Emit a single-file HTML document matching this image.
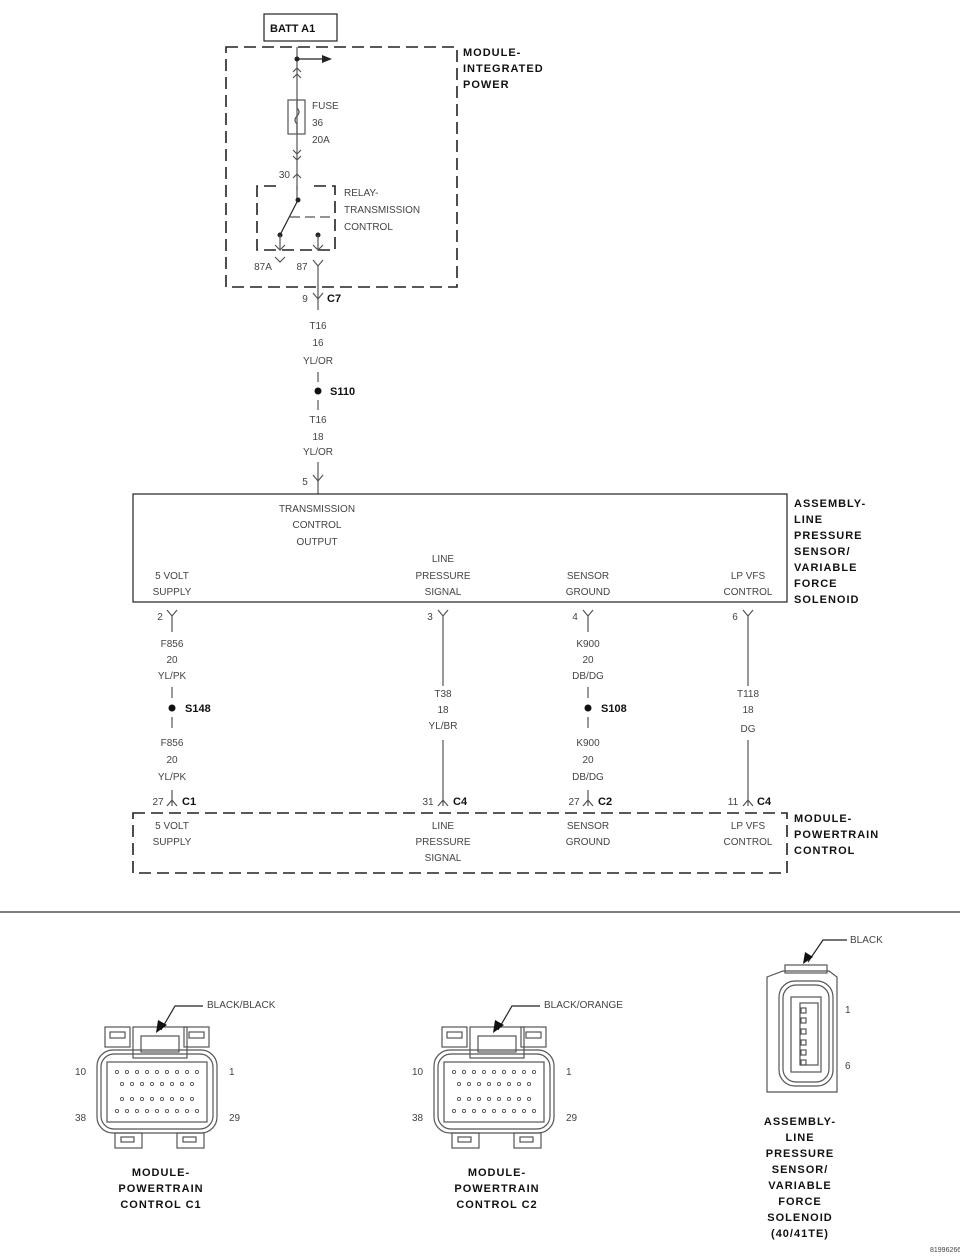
<!DOCTYPE html>
<html><head><style>
html,body{margin:0;padding:0;background:#fff}
svg{display:block}
.t{font-family:"Liberation Sans",sans-serif;font-size:10px;fill:#444;text-anchor:middle}
.tl{font-family:"Liberation Sans",sans-serif;font-size:10px;fill:#444}
.b{font-family:"Liberation Sans",sans-serif;font-size:11px;font-weight:bold;fill:#111;letter-spacing:1px}
.bc{font-family:"Liberation Sans",sans-serif;font-size:11px;font-weight:bold;fill:#111;letter-spacing:1px;text-anchor:middle}
.w{stroke:#555;stroke-width:1.2;fill:none}
.k{stroke:#222;stroke-width:1.2;fill:none}
.d{stroke:#222;stroke-width:1.6;fill:none;stroke-dasharray:12,6}
</style></head><body>
<svg width="960" height="1257" viewBox="0 0 960 1257" xmlns="http://www.w3.org/2000/svg">
<rect x="264" y="14" width="73" height="27" class="k" stroke-width="1.5"/>
<text x="270" y="32" class="b" style="letter-spacing:0">BATT A1</text>
<rect x="226" y="47" width="231" height="240" class="d"/>
<text x="463" y="56" class="b">MODULE-</text>
<text x="463" y="72" class="b">INTEGRATED</text>
<text x="463" y="88" class="b">POWER</text>
<line x1="297" y1="47" x2="297" y2="190" class="w"/>
<circle cx="297" cy="59" r="2.5" fill="#222"/>
<line x1="297" y1="59" x2="322" y2="59" class="k"/>
<polygon points="322,55 332,59 322,63" fill="#222"/>
<path d="M293,72 l4,-4 l4,4 M293,78 l4,-4 l4,4" class="w"/>
<rect x="288" y="100" width="17" height="34" class="w" fill="#fff"/>
<path d="M297,100 v8 q4,4 0,8 q-4,4 0,8 v10" class="w"/>
<text x="312" y="109" class="tl">FUSE</text>
<text x="312" y="126" class="tl">36</text>
<text x="312" y="143" class="tl">20A</text>
<path d="M293,150 l4,4 l4,-4 M293,156 l4,4 l4,-4" class="w"/>
<path d="M293,178 l4,-4 l4,4" class="w"/>
<text x="290" y="178" class="t" style="text-anchor:end">30</text>
<path d="M276,186 H257 V250 H335 V186 H310" class="d" stroke-width="1.4" stroke-dasharray="10,6"/>
<line x1="297" y1="186" x2="297" y2="200" class="w"/>
<circle cx="298" cy="200" r="2.5" fill="#222"/>
<line x1="298" y1="200" x2="280" y2="235" class="k"/>
<circle cx="280" cy="235" r="2.5" fill="#222"/>
<circle cx="318" cy="235" r="2.5" fill="#222"/>
<line x1="290" y1="217" x2="335" y2="217" class="w" stroke-dasharray="10,5"/>
<path d="M280,235 v15 M275,245 l5,5 l5,-5 M318,235 v15 M313,245 l5,5 l5,-5" class="w"/>
<text x="344" y="196" class="tl">RELAY-</text>
<text x="344" y="213" class="tl">TRANSMISSION</text>
<text x="344" y="230" class="tl">CONTROL</text>
<path d="M275,257 l5,5 l5,-5" class="w"/>
<text x="263" y="270" class="t">87A</text>
<path d="M313,260 l5,6 l5,-6" class="w"/>
<text x="302" y="270" class="t">87</text>
<line x1="318" y1="266" x2="318" y2="310" class="w"/>
<path d="M313,293 l5,6 l5,-6" class="w"/>
<text x="305" y="302" class="t">9</text>
<text x="327" y="302" class="b" style="letter-spacing:0">C7</text>
<text x="318" y="329" class="t">T16</text>
<text x="318" y="346" class="t">16</text>
<text x="318" y="364" class="t">YL/OR</text>
<line x1="318" y1="372" x2="318" y2="382" class="w"/>
<circle cx="318" cy="391" r="3.5" fill="#111"/>
<text x="330" y="395" class="b" style="letter-spacing:0">S110</text>
<line x1="318" y1="400" x2="318" y2="410" class="w"/>
<text x="318" y="423" class="t">T16</text>
<text x="318" y="440" class="t">18</text>
<text x="318" y="455" class="t">YL/OR</text>
<line x1="318" y1="462" x2="318" y2="494" class="w"/>
<path d="M313,475 l5,6 l5,-6" class="w"/>
<text x="305" y="485" class="t">5</text>
<rect x="133" y="494" width="654" height="108" class="k" stroke-width="1.6"/>
<text x="317" y="512" class="t">TRANSMISSION</text>
<text x="317" y="528" class="t">CONTROL</text>
<text x="317" y="545" class="t">OUTPUT</text>
<text x="172" y="579" class="t">5 VOLT</text>
<text x="172" y="595" class="t">SUPPLY</text>
<text x="443" y="562" class="t">LINE</text>
<text x="443" y="579" class="t">PRESSURE</text>
<text x="443" y="595" class="t">SIGNAL</text>
<text x="588" y="579" class="t">SENSOR</text>
<text x="588" y="595" class="t">GROUND</text>
<text x="748" y="579" class="t">LP VFS</text>
<text x="748" y="595" class="t">CONTROL</text>
<text x="794" y="507" class="b">ASSEMBLY-</text>
<text x="794" y="523" class="b">LINE</text>
<text x="794" y="539" class="b">PRESSURE</text>
<text x="794" y="555" class="b">SENSOR/</text>
<text x="794" y="571" class="b">VARIABLE</text>
<text x="794" y="587" class="b">FORCE</text>
<text x="794" y="603" class="b">SOLENOID</text>
<g class="w">
<path d="M167,610 l5,6 l5,-6 M172,616 v16"/>
<path d="M438,610 l5,6 l5,-6 M443,616 v70"/>
<path d="M583,610 l5,6 l5,-6 M588,616 v16"/>
<path d="M743,610 l5,6 l5,-6 M748,616 v70"/>
</g>
<text x="160" y="620" class="t">2</text>
<text x="430" y="620" class="t">3</text>
<text x="575" y="620" class="t">4</text>
<text x="735" y="620" class="t">6</text>
<text x="172" y="647" class="t">F856</text>
<text x="172" y="663" class="t">20</text>
<text x="172" y="679" class="t">YL/PK</text>
<line x1="172" y1="687" x2="172" y2="698" class="w"/>
<circle cx="172" cy="708" r="3.5" fill="#111"/>
<text x="185" y="712" class="b" style="letter-spacing:0">S148</text>
<line x1="172" y1="717" x2="172" y2="728" class="w"/>
<text x="172" y="746" class="t">F856</text>
<text x="172" y="763" class="t">20</text>
<text x="172" y="780" class="t">YL/PK</text>
<text x="443" y="697" class="t">T38</text>
<text x="443" y="713" class="t">18</text>
<text x="443" y="729" class="t">YL/BR</text>
<line x1="443" y1="740" x2="443" y2="800" class="w"/>
<text x="588" y="647" class="t">K900</text>
<text x="588" y="663" class="t">20</text>
<text x="588" y="679" class="t">DB/DG</text>
<line x1="588" y1="687" x2="588" y2="698" class="w"/>
<circle cx="588" cy="708" r="3.5" fill="#111"/>
<text x="601" y="712" class="b" style="letter-spacing:0">S108</text>
<line x1="588" y1="717" x2="588" y2="728" class="w"/>
<text x="588" y="746" class="t">K900</text>
<text x="588" y="763" class="t">20</text>
<text x="588" y="780" class="t">DB/DG</text>
<text x="748" y="697" class="t">T118</text>
<text x="748" y="713" class="t">18</text>
<text x="748" y="732" class="t">DG</text>
<line x1="748" y1="740" x2="748" y2="800" class="w"/>
<g class="w">
<path d="M172,790 v16 M167,806 l5,-6 l5,6"/>
<path d="M443,800 v6 M438,806 l5,-6 l5,6"/>
<path d="M588,790 v16 M583,806 l5,-6 l5,6"/>
<path d="M748,800 v6 M743,806 l5,-6 l5,6"/>
</g>
<text x="158" y="805" class="t">27</text><text x="182" y="805" class="b" style="letter-spacing:0">C1</text>
<text x="428" y="805" class="t">31</text><text x="453" y="805" class="b" style="letter-spacing:0">C4</text>
<text x="574" y="805" class="t">27</text><text x="598" y="805" class="b" style="letter-spacing:0">C2</text>
<text x="733" y="805" class="t">11</text><text x="757" y="805" class="b" style="letter-spacing:0">C4</text>
<rect x="133" y="813" width="654" height="60" class="d"/>
<text x="172" y="829" class="t">5 VOLT</text>
<text x="172" y="845" class="t">SUPPLY</text>
<text x="443" y="829" class="t">LINE</text>
<text x="443" y="845" class="t">PRESSURE</text>
<text x="443" y="861" class="t">SIGNAL</text>
<text x="588" y="829" class="t">SENSOR</text>
<text x="588" y="845" class="t">GROUND</text>
<text x="748" y="829" class="t">LP VFS</text>
<text x="748" y="845" class="t">CONTROL</text>
<text x="794" y="822" class="b">MODULE-</text>
<text x="794" y="838" class="b">POWERTRAIN</text>
<text x="794" y="854" class="b">CONTROL</text>
<line x1="0" y1="912" x2="960" y2="912" stroke="#333" stroke-width="1.2"/>

<defs>
<g id="pcm">
<rect x="-52" y="-23" width="25" height="20" class="w"/>
<rect x="-47" y="-18" width="15" height="6" class="w"/>
<rect x="27" y="-23" width="25" height="20" class="w"/>
<rect x="32" y="-18" width="15" height="6" class="w"/>
<rect x="-24" y="-23" width="54" height="31" class="w"/>
<rect x="-16" y="-14" width="38" height="16" class="w"/>
<rect x="-60" y="0" width="120" height="83" rx="16" class="w"/>
<rect x="-56" y="4" width="112" height="75" rx="13" class="w"/>
<rect x="-50" y="12" width="100" height="60" class="w"/>
<rect x="-42" y="83" width="27" height="15" class="w"/>
<rect x="-36" y="87" width="13" height="5" class="w"/>
<rect x="20" y="83" width="27" height="15" class="w"/>
<rect x="26" y="87" width="13" height="5" class="w"/>
<g fill="none" stroke="#555" stroke-width="0.9">
<circle cx="-40" cy="22" r="1.6"/><circle cx="-30" cy="22" r="1.6"/><circle cx="-20" cy="22" r="1.6"/><circle cx="-10" cy="22" r="1.6"/><circle cx="0" cy="22" r="1.6"/><circle cx="10" cy="22" r="1.6"/><circle cx="20" cy="22" r="1.6"/><circle cx="30" cy="22" r="1.6"/><circle cx="40" cy="22" r="1.6"/>
<circle cx="-35" cy="34" r="1.6"/><circle cx="-25" cy="34" r="1.6"/><circle cx="-15" cy="34" r="1.6"/><circle cx="-5" cy="34" r="1.6"/><circle cx="5" cy="34" r="1.6"/><circle cx="15" cy="34" r="1.6"/><circle cx="25" cy="34" r="1.6"/><circle cx="35" cy="34" r="1.6"/>
<circle cx="-35" cy="49" r="1.6"/><circle cx="-25" cy="49" r="1.6"/><circle cx="-15" cy="49" r="1.6"/><circle cx="-5" cy="49" r="1.6"/><circle cx="5" cy="49" r="1.6"/><circle cx="15" cy="49" r="1.6"/><circle cx="25" cy="49" r="1.6"/><circle cx="35" cy="49" r="1.6"/>
<circle cx="-40" cy="61" r="1.6"/><circle cx="-30" cy="61" r="1.6"/><circle cx="-20" cy="61" r="1.6"/><circle cx="-10" cy="61" r="1.6"/><circle cx="0" cy="61" r="1.6"/><circle cx="10" cy="61" r="1.6"/><circle cx="20" cy="61" r="1.6"/><circle cx="30" cy="61" r="1.6"/><circle cx="40" cy="61" r="1.6"/>
</g>
</g>
</defs>
<!-- C1 -->
<g transform="translate(157,1050)"><use href="#pcm"/></g>
<path d="M161,1030 L175,1006 H203" class="k"/><polygon points="156,1033 158,1020 167,1025" fill="#111"/>
<text x="207" y="1008" class="tl">BLACK/BLACK</text>
<text x="75" y="1075" class="tl">10</text><text x="229" y="1075" class="tl">1</text>
<text x="75" y="1121" class="tl">38</text><text x="229" y="1121" class="tl">29</text>
<text x="161" y="1176" class="bc">MODULE-</text>
<text x="161" y="1192" class="bc">POWERTRAIN</text>
<text x="161" y="1208" class="bc">CONTROL C1</text>
<!-- C2 -->
<g transform="translate(494,1050)"><use href="#pcm"/></g>
<path d="M498,1030 L512,1006 H540" class="k"/><polygon points="493,1033 495,1020 504,1025" fill="#111"/>
<text x="544" y="1008" class="tl">BLACK/ORANGE</text>
<text x="412" y="1075" class="tl">10</text><text x="566" y="1075" class="tl">1</text>
<text x="412" y="1121" class="tl">38</text><text x="566" y="1121" class="tl">29</text>
<text x="497" y="1176" class="bc">MODULE-</text>
<text x="497" y="1192" class="bc">POWERTRAIN</text>
<text x="497" y="1208" class="bc">CONTROL C2</text>
<!-- sensor connector -->
<g class="w">
<path d="M767,977 L783,971 H829 L837,977 V1092 H767 Z"/>
<rect x="785" y="965" width="42" height="8"/>
<rect x="779" y="981" width="54" height="105" rx="16"/>
<rect x="783" y="985" width="46" height="97" rx="13"/>
<rect x="791" y="997" width="30" height="75"/>
<rect x="800" y="1003" width="18" height="62"/>
<rect x="801" y="1008" width="5" height="5"/><rect x="801" y="1018" width="5" height="5"/><rect x="801" y="1029" width="5" height="5"/><rect x="801" y="1040" width="5" height="5"/><rect x="801" y="1050" width="5" height="5"/><rect x="801" y="1060" width="5" height="5"/>
</g>
<path d="M808,962 L823,940 H847" class="k"/><polygon points="803,964 805,952 813,957" fill="#111"/>
<text x="850" y="943" class="tl">BLACK</text>
<text x="845" y="1013" class="tl">1</text>
<text x="845" y="1069" class="tl">6</text>
<text x="800" y="1125" class="bc">ASSEMBLY-</text>
<text x="800" y="1141" class="bc">LINE</text>
<text x="800" y="1157" class="bc">PRESSURE</text>
<text x="800" y="1173" class="bc">SENSOR/</text>
<text x="800" y="1189" class="bc">VARIABLE</text>
<text x="800" y="1205" class="bc">FORCE</text>
<text x="800" y="1221" class="bc">SOLENOID</text>
<text x="800" y="1237" class="bc">(40/41TE)</text>
<text x="930" y="1252" class="tl" style="font-size:7px">81996266</text>
</svg>
</body></html>
